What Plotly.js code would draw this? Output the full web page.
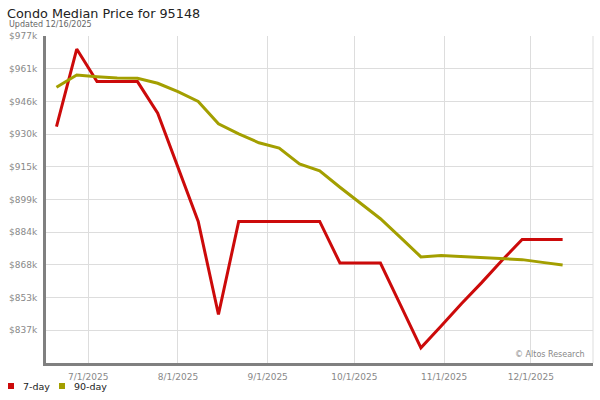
<!DOCTYPE html>
<html>
<head>
<meta charset="utf-8">
<script src="https://cdn.plot.ly/plotly-3.0.1.min.js"></script>
<style>html,body{margin:0;padding:0;background:#fff;}#chart{width:600px;height:400px;}</style>
</head>
<body>
<div id="chart"></div>
<script>
// Weekly dates (Fridays)
const dates = ["2025-06-20","2025-06-27","2025-07-04","2025-07-11","2025-07-18","2025-07-25",
  "2025-08-01","2025-08-08","2025-08-15","2025-08-22","2025-08-29","2025-09-05","2025-09-12",
  "2025-09-19","2025-09-26","2025-10-03","2025-10-10","2025-10-17","2025-10-24","2025-10-31",
  "2025-11-07","2025-11-14","2025-11-21","2025-11-28","2025-12-05","2025-12-12"];
// Values in $k
const sevenDay = [934.1,970.8,955.4,955.4,955.4,940.4,915.0,889.1,845.0,889.1,889.1,889.1,889.1,
  889.1,869.4,869.4,869.4,849.3,829.2,839.5,850.1,860.1,870.6,880.5,880.5,880.5];
const ninetyDay = [952.7,958.5,957.7,957.1,957.0,954.6,950.6,946.0,935.4,930.6,926.4,923.9,916.4,
  913.1,905.3,898.0,890.4,881.4,872.3,872.9,872.4,871.7,871.3,871.0,869.7,868.5];
const yTickVals = [837.5,853,868.5,884,899.5,915,930.5,946,961.5,977];
const yTickText = ["$837k","$853k","$868k","$884k","$899k","$915k","$930k","$946k","$961k","$977k"];
const xTickVals = ["2025-07-01","2025-08-01","2025-09-01","2025-10-01","2025-11-01","2025-12-01"];
const xTickText = ["7/1/2025","8/1/2025","9/1/2025","10/1/2025","11/1/2025","12/1/2025"];
const seriesNames = ["7-day","90-day"];
const colors = ["#cc0a0a","#a39f00"];

const F = "DejaVu Sans, sans-serif";
const L = 46, T = 36, W = 547, H = 327;
const px = v => (v - L) / W;
const py = v => (T + H - v) / H;

const traces = [
  {x: dates, y: sevenDay, type: "scatter", mode: "lines", name: seriesNames[0],
   line: {color: colors[0], width: 3}, showlegend: false, hoverinfo: "x+y"},
  {x: dates, y: ninetyDay, type: "scatter", mode: "lines", name: seriesNames[1],
   line: {color: colors[1], width: 3}, showlegend: false, hoverinfo: "x+y"}
];

const layout = {
  width: 600, height: 400,
  margin: {l: L, r: 600 - L - W, t: T, b: 400 - T - H, pad: 0},
  paper_bgcolor: "#fff", plot_bgcolor: "#fff",
  font: {family: F, size: 9, color: "#888"},
  title: {text: "Condo Median Price for 95148", font: {family: F, size: 12.8, color: "#222"},
          x: 7/600, xanchor: "left", xref: "container", y: 1 - 14/400, yanchor: "middle", yref: "container"},
  xaxis: {type: "date", range: ["2025-06-16 09:00", "2025-12-22 12:00"],
          tickvals: xTickVals, ticktext: xTickText, showgrid: true, gridcolor: "#dddddd", gridwidth: 1,
          showline: true, linecolor: "#808080", linewidth: 3, zeroline: false,
          ticks: "outside", ticklen: 3, tickcolor: "rgba(0,0,0,0)",
          tickfont: {family: F, size: 9, color: "#888"}, fixedrange: true},
  yaxis: {range: [822, 977], tickvals: yTickVals, ticktext: yTickText,
          showgrid: true, gridcolor: "#dddddd", gridwidth: 1,
          showline: true, linecolor: "#808080", linewidth: 3, zeroline: false,
          ticks: "outside", ticklen: 4, tickcolor: "rgba(0,0,0,0)",
          tickfont: {family: F, size: 9, color: "#888"}, fixedrange: true},
  shapes: [
    {type: "line", xref: "paper", yref: "paper", x0: 1, x1: 1, y0: 0, y1: 1, line: {color: "#dddddd", width: 1}},
    {type: "rect", xref: "paper", yref: "paper", x0: px(8), x1: px(14), y0: py(389), y1: py(383),
     fillcolor: colors[0], line: {width: 0}},
    {type: "rect", xref: "paper", yref: "paper", x0: px(59), x1: px(65), y0: py(389), y1: py(383),
     fillcolor: colors[1], line: {width: 0}}
  ],
  annotations: [
    {text: "Updated 12/16/2025", xref: "paper", yref: "paper", x: px(7), y: py(25),
     xanchor: "left", yanchor: "middle", showarrow: false, font: {family: F, size: 8, color: "#666"}},
    {text: seriesNames[0], xref: "paper", yref: "paper", x: px(20.5), y: py(386.5),
     xanchor: "left", yanchor: "middle", showarrow: false, font: {family: F, size: 9.5, color: "#222"}},
    {text: seriesNames[1], xref: "paper", yref: "paper", x: px(71.5), y: py(386.5),
     xanchor: "left", yanchor: "middle", showarrow: false, font: {family: F, size: 9.5, color: "#222"}},
    {text: "© Altos Research", xref: "paper", yref: "paper", x: px(587), y: py(354),
     xanchor: "right", yanchor: "middle", showarrow: false, font: {family: F, size: 8, color: "#888"}}
  ]
};

Plotly.newPlot("chart", traces, layout, {displayModeBar: false, staticPlot: true});
</script>
</body>
</html>
